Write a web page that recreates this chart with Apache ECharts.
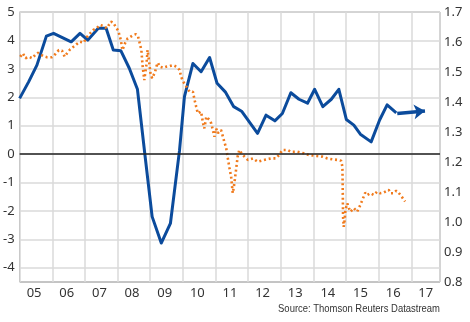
<!DOCTYPE html>
<html><head><meta charset="utf-8">
<script src="https://cdn.jsdelivr.net/npm/echarts@6/dist/echarts.min.js"></script>
<style>html,body{margin:0;padding:0;background:#fff}#c{width:470px;height:322px}</style>
</head><body><div id="c"></div>
<script>
// Blue series (left axis, %)
const blueDates = [2005.00,2005.28,2005.53,2005.82,2006.04,2006.58,2006.85,2007.09,2007.41,2007.65,2007.87,2008.10,2008.36,2008.61,2008.84,2009.06,2009.34,2009.62,2009.90,2010.05,2010.31,2010.56,2010.82,2011.05,2011.30,2011.56,2011.80,2012.29,2012.55,2012.82,2013.05,2013.31,2013.56,2013.82,2014.04,2014.29,2014.55,2014.78,2015.01,2015.24,2015.44,2015.77,2016.03,2016.26,2016.54];
const blueValues = [1.96,2.55,3.13,4.15,4.25,3.95,4.25,4.01,4.43,4.43,3.66,3.64,3.02,2.28,-0.03,-2.20,-3.13,-2.44,0.14,2.02,3.19,2.90,3.40,2.49,2.19,1.67,1.51,0.73,1.37,1.17,1.43,2.16,1.93,1.79,2.28,1.67,1.93,2.28,1.22,1.02,0.70,0.43,1.20,1.73,1.45];
// Orange series (right axis)
const orangeDates = [2005.02,2005.10,2005.18,2005.28,2005.38,2005.48,2005.56,2005.66,2005.75,2005.84,2005.99,2006.09,2006.20,2006.30,2006.38,2006.45,2006.55,2006.65,2006.75,2006.85,2006.96,2007.06,2007.16,2007.26,2007.36,2007.46,2007.57,2007.67,2007.80,2007.87,2007.94,2008.02,2008.10,2008.15,2008.23,2008.31,2008.38,2008.48,2008.56,2008.63,2008.68,2008.73,2008.77,2008.82,2008.89,2008.92,2008.96,2009.01,2009.06,2009.10,2009.15,2009.19,2009.24,2009.29,2009.40,2009.50,2009.60,2009.70,2009.80,2009.90,2009.95,2010.01,2010.11,2010.21,2010.26,2010.31,2010.36,2010.41,2010.46,2010.51,2010.56,2010.62,2010.66,2010.72,2010.82,2010.87,2010.92,2010.97,2011.02,2011.07,2011.17,2011.23,2011.27,2011.33,2011.38,2011.43,2011.48,2011.53,2011.58,2011.63,2011.68,2011.73,2011.84,2011.99,2012.15,2012.29,2012.49,2012.70,2012.85,2012.95,2013.05,2013.10,2013.21,2013.31,2013.51,2013.71,2013.87,2014.12,2014.27,2014.43,2014.58,2014.73,2014.85,2014.89,2014.90,2014.91,2014.93,2014.96,2014.98,2015.04,2015.09,2015.14,2015.24,2015.34,2015.44,2015.54,2015.59,2015.65,2015.70,2015.75,2015.85,2015.95,2016.05,2016.15,2016.31,2016.36,2016.46,2016.54,2016.61,2016.71,2016.81];
const orangeValues = [1.551,1.562,1.546,1.551,1.546,1.557,1.564,1.557,1.552,1.549,1.549,1.559,1.573,1.571,1.551,1.562,1.576,1.584,1.593,1.601,1.598,1.616,1.629,1.640,1.646,1.657,1.653,1.646,1.668,1.664,1.651,1.638,1.607,1.573,1.596,1.612,1.616,1.623,1.626,1.618,1.596,1.573,1.518,1.473,1.529,1.573,1.540,1.496,1.479,1.475,1.500,1.518,1.531,1.518,1.514,1.518,1.520,1.523,1.518,1.507,1.484,1.468,1.451,1.434,1.440,1.434,1.407,1.384,1.362,1.360,1.368,1.329,1.312,1.351,1.340,1.329,1.307,1.284,1.312,1.296,1.307,1.284,1.268,1.246,1.212,1.180,1.151,1.096,1.129,1.173,1.218,1.240,1.223,1.207,1.212,1.201,1.207,1.212,1.212,1.223,1.240,1.234,1.240,1.234,1.234,1.229,1.223,1.220,1.218,1.212,1.209,1.207,1.204,1.184,1.107,1.018,0.984,1.007,1.040,1.062,1.046,1.034,1.046,1.034,1.057,1.084,1.098,1.090,1.084,1.096,1.090,1.101,1.096,1.098,1.107,1.096,1.096,1.104,1.098,1.084,1.068];
// Axis ticks
const yearTicks = [2005,2006,2007,2008,2009,2010,2011,2012,2013,2014,2015,2016,2017];
const leftTicks = [5,4,3,2,1,0,-1,-2,-3,-4];
const rightTicks = [1.7,1.6,1.5,1.4,1.3,1.2,1.1,1.0,0.9,0.8];
const arrowFrom = [2016.57, 1.43];
const arrowTo = [2017.42, 1.52];
const sourceText = 'Source: Thomson Reuters Datastream';

const FONT = 'Noto Sans';
const chart = echarts.init(document.getElementById('c'), null, {renderer: 'canvas'});
const isInt = v => Math.abs(v - Math.round(v)) < 1e-6;
chart.setOption({
  animation: false,
  backgroundColor: '#fff',
  grid: {left: 17.5, right: 30, top: 12, bottom: 40, show: true, borderColor: '#8a8a8a', borderWidth: 1, backgroundColor: 'transparent'},
  xAxis: {
    type: 'value', min: 2005, max: 2017.88, interval: 1,
    axisLine: {show: false}, axisTick: {show: false},
    splitLine: {show: true, lineStyle: {color: '#dadada', width: 1.5}},
    axisLabel: {
      color: '#333', fontFamily: FONT, fontSize: 13, margin: 5,
      align: 'center', padding: [0, 0, 0, 29],
      showMaxLabel: false,
      formatter: v => (isInt(v) && yearTicks.includes(Math.round(v))) ? String(Math.round(v) % 100).padStart(2, '0') : ''
    }
  },
  yAxis: [{
    type: 'value', min: -4.5, max: 5, interval: 0.5,
    axisLine: {show: false}, axisTick: {show: false},
    splitLine: {show: true, lineStyle: {color: ['rgba(0,0,0,0)', '#dadada'], width: 1.5}},
    axisLabel: {color: '#333', fontFamily: FONT, fontSize: 13, margin: 5,
      formatter: v => (isInt(v) && leftTicks.includes(Math.round(v))) ? String(Math.round(v)) : ''}
  }, {
    type: 'value', min: 0.8, max: 1.7, interval: 0.1, position: 'right',
    axisLine: {show: false}, axisTick: {show: false}, splitLine: {show: false},
    axisLabel: {color: '#333', fontFamily: FONT, fontSize: 13, margin: 4,
      formatter: v => v.toFixed(1)}
  }],
  graphic: [{
    type: 'text', x: 440, y: 309, scaleX: 0.86,
    style: {text: sourceText, fill: '#333', font: '11px "Liberation Sans"', textAlign: 'right', textVerticalAlign: 'middle'}
  }],
  series: [{
    name: 'blue', type: 'line', xAxisIndex: 0, yAxisIndex: 0, symbol: 'none', z: 3,
    data: blueDates.map((d, i) => [d, blueValues[i]]),
    lineStyle: {color: '#0b4b9c', width: 3, join: 'round'},
    markLine: {
      silent: true, animation: false, label: {show: false},
      data: [
        [{coord: arrowFrom, symbol: 'none'}, {coord: arrowTo, symbol: 'arrow', symbolSize: [11, 11]}]
      ],
      lineStyle: {color: '#0b4b9c', width: 3.5, type: 'solid'}
    }
  }, {
    name: 'zero', type: 'line', xAxisIndex: 0, yAxisIndex: 0, symbol: 'none', data: [], z: 2,
    markLine: {silent: true, symbol: 'none', label: {show: false},
      data: [{yAxis: 0}], lineStyle: {color: '#222', width: 1.5, type: 'solid'}}
  }, {
    name: 'orange', type: 'line', xAxisIndex: 0, yAxisIndex: 1, symbol: 'none', z: 4,
    data: orangeDates.map((d, i) => [d, orangeValues[i]]),
    lineStyle: {color: '#f07a1c', width: 2.6, type: [2, 2.8], cap: 'butt'}
  }]
});
</script></body></html>
